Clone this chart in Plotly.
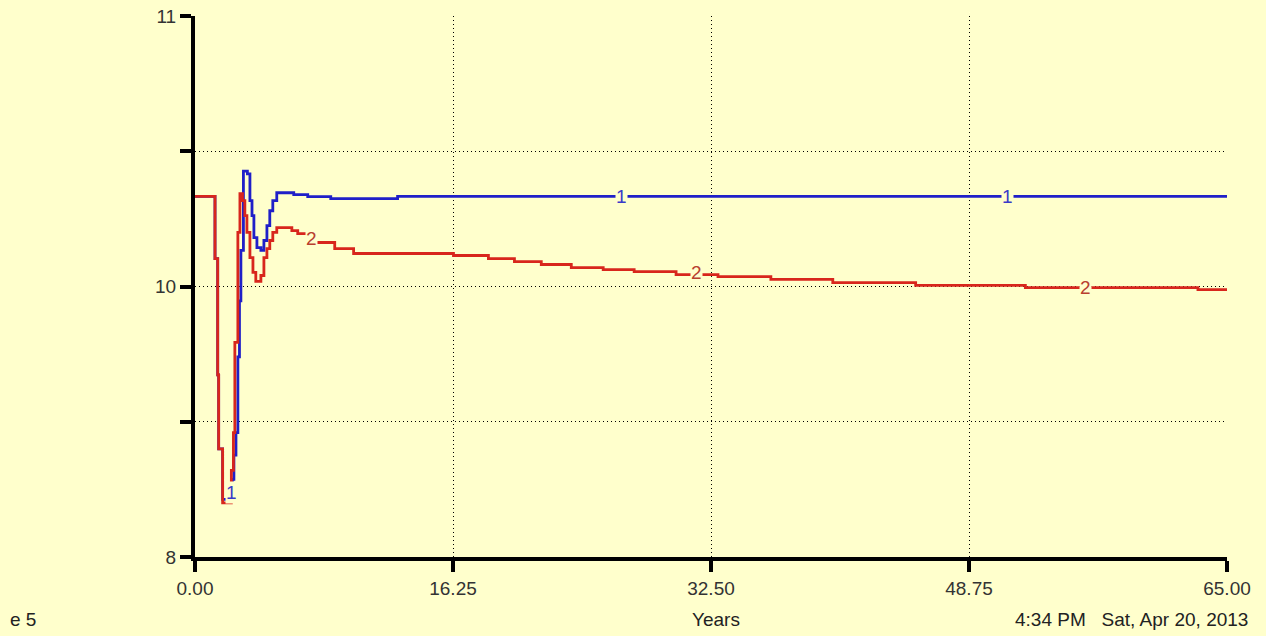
import plotly.graph_objects as go

# --- data (time in years, value on the graph scale) ---
years_1 = [0, 1.26, 1.43, 1.49, 1.74, 2.35, 2.45, 2.58, 2.70, 2.80, 2.89, 3.05,
           3.30, 3.46, 3.59, 3.71, 3.90, 4.15, 4.34, 4.53, 4.71, 4.90, 5.15,
           5.85, 6.22, 7.10, 8.55, 12.76, 65.0]
value_1 = [10.40, 10.055, 9.41, 9.00, 8.72, 8.83, 8.965, 9.09, 9.51, 9.82, 10.10, 10.54,
           10.525, 10.376, 10.293, 10.171, 10.116, 10.10, 10.155, 10.238, 10.32, 10.376, 10.42,
           10.42, 10.409, 10.398, 10.387, 10.40, 10.40]

years_2 = [0, 1.26, 1.43, 1.49, 1.74, 2.29, 2.42, 2.51, 2.70, 2.83, 2.99, 3.14,
           3.27, 3.46, 3.65, 3.83, 4.02, 4.15, 4.34, 4.53, 4.71, 4.90, 5.15,
           5.66, 6.10, 6.47, 7.54, 8.80, 9.99, 16.28, 18.48, 20.12, 21.81, 23.70,
           25.71, 27.66, 30.30, 32.94, 36.27, 40.17, 45.39, 52.30, 63.17, 65.0]
value_2 = [10.40, 10.055, 9.41, 9.00, 8.70, 8.88, 9.09, 9.59, 10.20, 10.415, 10.376, 10.293,
           10.20, 10.06, 9.978, 9.928, 9.928, 9.961, 10.06, 10.11, 10.155, 10.20, 10.227,
           10.227, 10.21, 10.193, 10.144, 10.11, 10.083, 10.072, 10.055, 10.038, 10.022, 10.005,
           9.994, 9.983, 9.966, 9.955, 9.939, 9.922, 9.906, 9.894, 9.883, 9.883]

# where the series numbers sit on the lines
label_1_x = [2.33, 26.84, 51.17]
label_1_y = [8.76, 10.40, 10.40]
label_2_x = [7.36, 31.56, 56.07]
label_2_y = [10.166, 9.977, 9.894]

x_ticks = [0, 16.25, 32.5, 48.75, 65]
x_ticktext = ["0.00", "16.25", "32.50", "48.75", "65.00"]
y_ticks = [8.4, 9.15, 9.9, 10.65, 11.4]
y_ticktext = ["8", "", "10", "", "11"]

BG = "#FFFFCC"
BLUE = "#1F1FC8"
RED = "#D8261C"
FONT = "Liberation Sans"

fig = go.Figure()
fig.add_trace(go.Scatter(x=years_1, y=value_1, mode="lines", line_shape="hv",
                         line=dict(color=BLUE, width=2.8), name="1"))
fig.add_trace(go.Scatter(x=years_2, y=value_2, mode="lines", line_shape="hv",
                         line=dict(color=RED, width=2.8), name="2"))

for x, y in zip(label_1_x, label_1_y):
    fig.add_annotation(x=x, y=y, text="1", showarrow=False, bgcolor=BG, borderpad=0,
                       font=dict(color="#3A3AC8", size=19, family=FONT))
for x, y in zip(label_2_x, label_2_y):
    fig.add_annotation(x=x, y=y, text="2", showarrow=False, bgcolor=BG, borderpad=0,
                       font=dict(color="#B8402E", size=19, family=FONT))

# footer texts
foot = dict(size=19, family=FONT, color="#222222")
fig.add_annotation(xref="paper", yref="paper", x=0.505, y=-0.116, text="Years",
                   showarrow=False, font=foot, yanchor="middle")
fig.add_annotation(xref="paper", yref="paper", x=1.022, y=-0.116,
                   text="4:34 PM&nbsp;&nbsp;&nbsp;Sat, Apr 20, 2013",
                   showarrow=False, font=foot, xanchor="right", yanchor="middle")
fig.add_annotation(xref="paper", yref="paper", x=-0.181, y=-0.116, text="e 5",
                   showarrow=False, font=foot, xanchor="left", yanchor="middle")

grid = dict(showgrid=True, gridcolor="black", gridwidth=1.2, griddash="1px,3px")
axis_style = dict(showline=True, linecolor="black", linewidth=4,
                  ticks="outside", ticklen=11, tickwidth=4, tickcolor="black",
                  zeroline=False, fixedrange=True, automargin=False, **grid)

fig.update_layout(
    width=1266, height=636,
    paper_bgcolor=BG, plot_bgcolor=BG,
    showlegend=False,
    margin=dict(l=195, r=39, t=16, b=79),
    font=dict(family=FONT, size=19, color="#333333"),
    xaxis=dict(range=[0, 65], tickvals=x_ticks, ticktext=x_ticktext, **axis_style),
    yaxis=dict(range=[8.4, 11.4], tickvals=y_ticks, ticktext=y_ticktext, **axis_style),
)

# drop the page margin so the chart fills the window
fig.write_html("out.html", config={"displayModeBar": False},
               post_script="document.body.style.margin='0';")
